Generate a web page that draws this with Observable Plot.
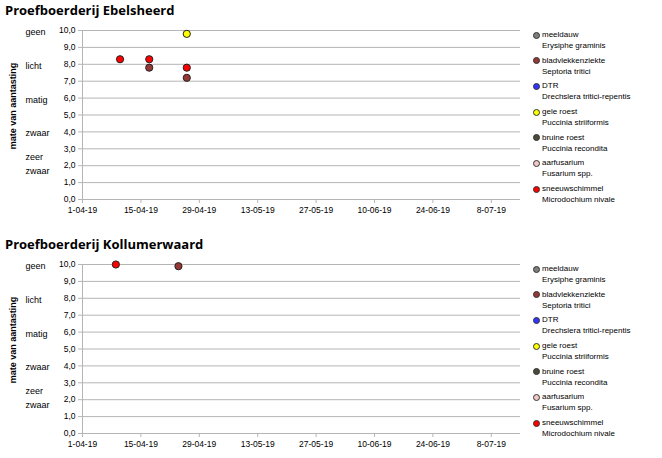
<!DOCTYPE html>
<html><head><meta charset="utf-8">
<script src="https://cdn.jsdelivr.net/npm/d3@7"></script>
<script src="https://cdn.jsdelivr.net/npm/@observablehq/plot@0.6"></script>
<style>
body{margin:0;width:662px;height:458px;background:#fff;position:relative;overflow:hidden;font-family:'Liberation Sans',Arial,sans-serif;}
.title{position:absolute;left:5px;font-family:'Open Sans',sans-serif;font-weight:bold;font-size:13px;color:#000;white-space:nowrap;}
.chart{position:absolute;left:0;}
.legend{position:absolute;left:532px;font-size:8px;color:#000;}
.item{height:25.7px;position:relative;}
.item .nm{position:absolute;left:10px;top:0;white-space:nowrap;line-height:10px;}
.item .lt{position:absolute;left:10px;top:11px;white-space:nowrap;line-height:10px;}
.item .mk{position:absolute;left:1px;top:1.5px;width:7px;height:7px;border-radius:50%;border:1px solid #333;box-sizing:border-box;}
</style></head>
<body>
<div id="root"></div>
<script>
const diseases = ["meeldauw","bladvlekkenziekte","DTR","gele roest","bruine roest","aarfusarium","sneeuwschimmel"];
const latinNames = ["Erysiphe graminis","Septoria tritici","Drechslera tritici-repentis","Puccinia striiformis","Puccinia recondita","Fusarium spp.","Microdochium nivale"];
const diseaseColors = ["#7f7f7f","#953735","#3333ff","#ffff00","#4a4a38","#f2c6c6","#ff0000"];

const ebelsheerdDates = ["2019-04-10","2019-04-17","2019-04-17","2019-04-26","2019-04-26","2019-04-26"];
const ebelsheerdDisease = ["sneeuwschimmel","sneeuwschimmel","bladvlekkenziekte","gele roest","sneeuwschimmel","bladvlekkenziekte"];
const ebelsheerdValues = [8.3,8.3,7.8,9.8,7.8,7.2];

const kollumDates = ["2019-04-24","2019-04-09"];
const kollumDisease = ["bladvlekkenziekte","sneeuwschimmel"];
const kollumValues = [9.9,10.0];

const severityLabels = ["geen","licht","matig","zwaar","zeer\nzwaar"];
const severityValues = [10,8,6,4,2.2];

const xTickDates = ["2019-04-01","2019-04-15","2019-04-29","2019-05-13","2019-05-27","2019-06-10","2019-06-24","2019-07-08"];
const xDomain = ["2019-04-01","2019-07-15"];
const yTicks = [0,1,2,3,4,5,6,7,8,9,10];

const charts = [
  {title:"Proefboerderij Ebelsheerd", top:0, dates:ebelsheerdDates, dis:ebelsheerdDisease, vals:ebelsheerdValues},
  {title:"Proefboerderij Kollumerwaard", top:234, dates:kollumDates, dis:kollumDisease, vals:kollumValues}
];

const root = document.getElementById("root");
const colorOf = Object.fromEntries(diseases.map((d,i)=>[d,diseaseColors[i]]));

for (const c of charts) {
  const t = document.createElement("div");
  t.className = "title"; t.style.top = (c.top + 1) + "px"; t.textContent = c.title;
  root.appendChild(t);

  const data = c.dates.map((d,i)=>({date:new Date(d), disease:c.dis[i], value:c.vals[i]}));
  const plot = Plot.plot({
    width: 525, height: 200,
    marginLeft: 82, marginRight: 5, marginTop: 10, marginBottom: 21,
    style: {fontFamily: "'Liberation Sans',Arial,sans-serif", fontSize: "8.5px", color:"#000", background:"transparent"},
    x: {type:"utc", domain: xDomain.map(d=>new Date(d)), label:null},
    y: {domain:[0,10], label:null},
    marks: [
      Plot.gridY(yTicks, {stroke:"#b5b5b5", strokeOpacity:1, strokeWidth:1}),
      Plot.ruleX([new Date(xDomain[0])], {stroke:"#b5b5b5", strokeWidth:1}),
      Plot.axisY(yTicks, {tickSize:4, tickPadding:3, stroke:"#b5b5b5", tickFormat:d=>d.toFixed(1).replace(".",","), fill:"#000"}),
      Plot.axisX(xTickDates.map(d=>new Date(d)), {tickSize:4, tickPadding:3, stroke:"#b5b5b5", tickFormat:d3.utcFormat("%-d-%m-%y"), fill:"#000"}),
      Plot.text(severityLabels, {y:(d,i)=>severityValues[i], text:d=>d, frameAnchor:"left", dx:-57, textAnchor:"start", lineHeight:1.55, fontSize:9, fill:"#000"}),
      Plot.text(["mate van aantasting"], {frameAnchor:"left", dx:-69, dy:-9, rotate:-90, textAnchor:"middle", fontWeight:"bold", fontSize:9, fill:"#000", text:d=>d, letterSpacing:"1.6px"}),
      Plot.dot(data, {x:"date", y:"value", r:3.6, fill:d=>colorOf[d.disease], stroke:"#222", strokeWidth:1})
    ]
  });
  plot.classList.add("chart");
  plot.style.top = (c.top + 20) + "px";
  root.appendChild(plot);

  const lg = document.createElement("div");
  lg.className = "legend"; lg.style.top = (c.top + 30) + "px";
  diseases.forEach((d,i)=>{
    const it = document.createElement("div"); it.className = "item";
    it.innerHTML = `<span class="mk" style="background:${diseaseColors[i]}"></span><span class="nm">${d}</span><span class="lt">${latinNames[i]}</span>`;
    lg.appendChild(it);
  });
  root.appendChild(lg);
}
</script>
</body></html>
